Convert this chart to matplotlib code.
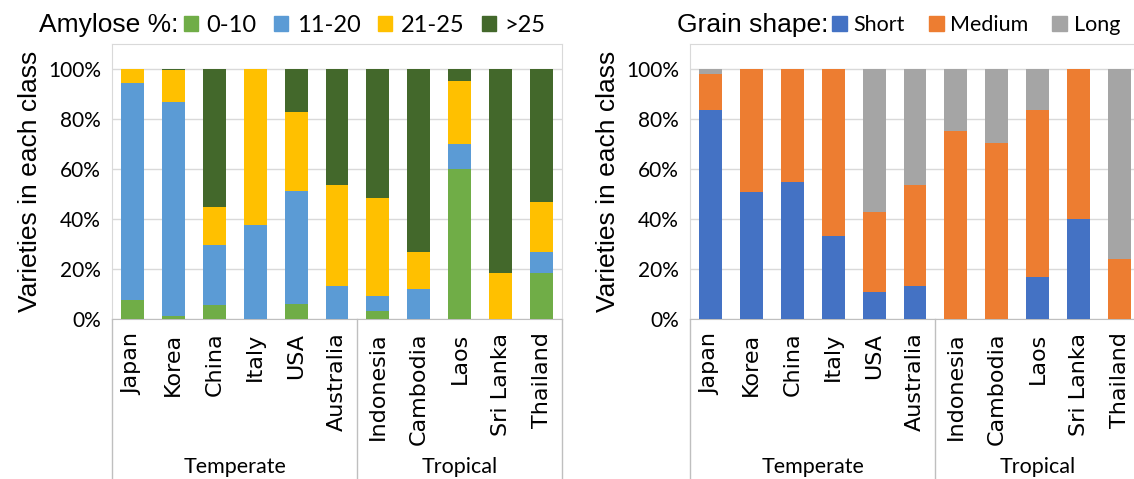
import numpy as np
import matplotlib
matplotlib.use("Agg")
import matplotlib.pyplot as plt
from matplotlib.patches import Patch
from matplotlib.ticker import PercentFormatter

countries = ["Japan", "Korea", "China", "Italy", "USA", "Australia",
             "Indonesia", "Cambodia", "Laos", "Sri Lanka", "Thailand"]
groups = ["Temperate", "Tropical"]
group_sizes = [6, 5]

# amylose classes, % of varieties
amy_labels = ["0-10", "11-20", "21-25", ">25"]
amy_0_10 = [7.4, 1.2, 5.4, 0, 5.9, 0, 3.0, 0, 60.0, 0, 18.1]
amy_11_20 = [86.8, 85.6, 24.1, 37.4, 45.4, 13.2, 6.1, 11.7, 10.0, 0, 8.7]
amy_21_25 = [5.8, 12.8, 15.2, 62.6, 31.5, 40.2, 39.4, 14.9, 25.2, 18.4, 19.9]
amy_gt25 = [0, 0.4, 55.3, 0, 17.2, 46.6, 51.5, 73.4, 4.8, 81.6, 53.3]
amy_colors = ["#70ad47", "#5b9bd5", "#ffc000", "#43682b"]

# grain shape classes, % of varieties
shape_labels = ["Short", "Medium", "Long"]
shape_short = [83.6, 50.9, 54.6, 33.3, 10.6, 13.2, 0, 0, 16.5, 40.0, 0]
shape_medium = [14.3, 49.1, 45.4, 66.7, 32.2, 40.4, 75.3, 70.2, 67.1, 60.0, 23.9]
shape_long = [2.1, 0, 0, 0, 57.2, 46.4, 24.7, 29.8, 16.4, 0, 76.1]
shape_colors = ["#4472c4", "#ed7d31", "#a5a5a5"]

W, H = 1134, 479
fig = plt.figure(figsize=(W / 100, H / 100), dpi=100)

grid_col = "#d9d9d9"
axis_col = "#bfbfbf"


def panel(left_px, series, colors):
    ax = fig.add_axes([left_px / W, (H - 318.7) / H, 450 / W, 274.7 / H])
    x = np.arange(len(countries))
    bottom = np.zeros(len(countries))
    for vals, c in zip(series, colors):
        v = np.array(vals) / 100
        ax.bar(x, v, 0.56, bottom=bottom, color=c, linewidth=0, zorder=3)
        bottom += v
    ax.set_xlim(-0.5, len(countries) - 0.5)
    ax.set_ylim(0, 1.1)
    ax.set_yticks(np.arange(0, 1.01, 0.2))
    ax.yaxis.set_major_formatter(PercentFormatter(1.0, decimals=0))
    ax.grid(axis="y", color=grid_col, linewidth=1, zorder=0)
    for s in ["top", "left", "right"]:
        ax.spines[s].set_color(grid_col)
    ax.spines["bottom"].set_color(axis_col)
    ax.tick_params(length=0)
    ax.tick_params(axis="y", labelsize=15, pad=8)
    for lab in ax.get_yticklabels():
        lab.set_family("Lato")
    ax.set_xticks(x)
    ax.set_xticklabels(countries, rotation=90, fontsize=16,
                       family="DejaVu Sans", va="top")
    ax.tick_params(axis="x", pad=10)
    ax.set_ylabel("Varieties in each class", fontsize=19,
                  family="Liberation Sans", labelpad=4)

    # multi-level category lines and group labels
    tr = ax.get_xaxis_transform()
    edges = np.concatenate([[0], np.cumsum(group_sizes)]) - 0.5
    for e in edges:
        ax.plot([e, e], [0, -0.6], color=axis_col, linewidth=1,
                transform=tr, clip_on=False)
    for g, a, b in zip(groups, edges[:-1], edges[1:]):
        ax.text((a + b) / 2, -0.54, g, transform=tr, ha="center",
                va="center", fontsize=15.5, family="Lato")
    return ax


ax1 = panel(112, [amy_0_10, amy_11_20, amy_21_25, amy_gt25], amy_colors)
ax2 = panel(690, [shape_short, shape_medium, shape_long], shape_colors)

fig.text(39 / W, 1 - 25 / H, "Amylose %:", fontsize=19,
         family="Liberation Sans", ha="left", va="center")
fig.legend([Patch(color=c) for c in amy_colors], amy_labels, ncol=4,
           loc="center left", bbox_to_anchor=(184 / W, 1 - 25 / H),
           frameon=False, handlelength=0.6, handleheight=0.6,
           handletextpad=0.35, columnspacing=0.75, borderpad=0,
           borderaxespad=0, prop={"family": "Lato", "size": 17})

fig.text(677 / W, 1 - 25 / H, "Grain shape:", fontsize=19,
         family="Liberation Sans", ha="left", va="center")
fig.legend([Patch(color=c) for c in shape_colors], shape_labels, ncol=3,
           loc="center left", bbox_to_anchor=(832 / W, 1 - 25 / H),
           frameon=False, handlelength=0.7, handleheight=0.7,
           handletextpad=0.3, columnspacing=1.1, borderpad=0,
           borderaxespad=0, prop={"family": "Lato", "size": 15.5})

fig.savefig("out.png", dpi=100)
